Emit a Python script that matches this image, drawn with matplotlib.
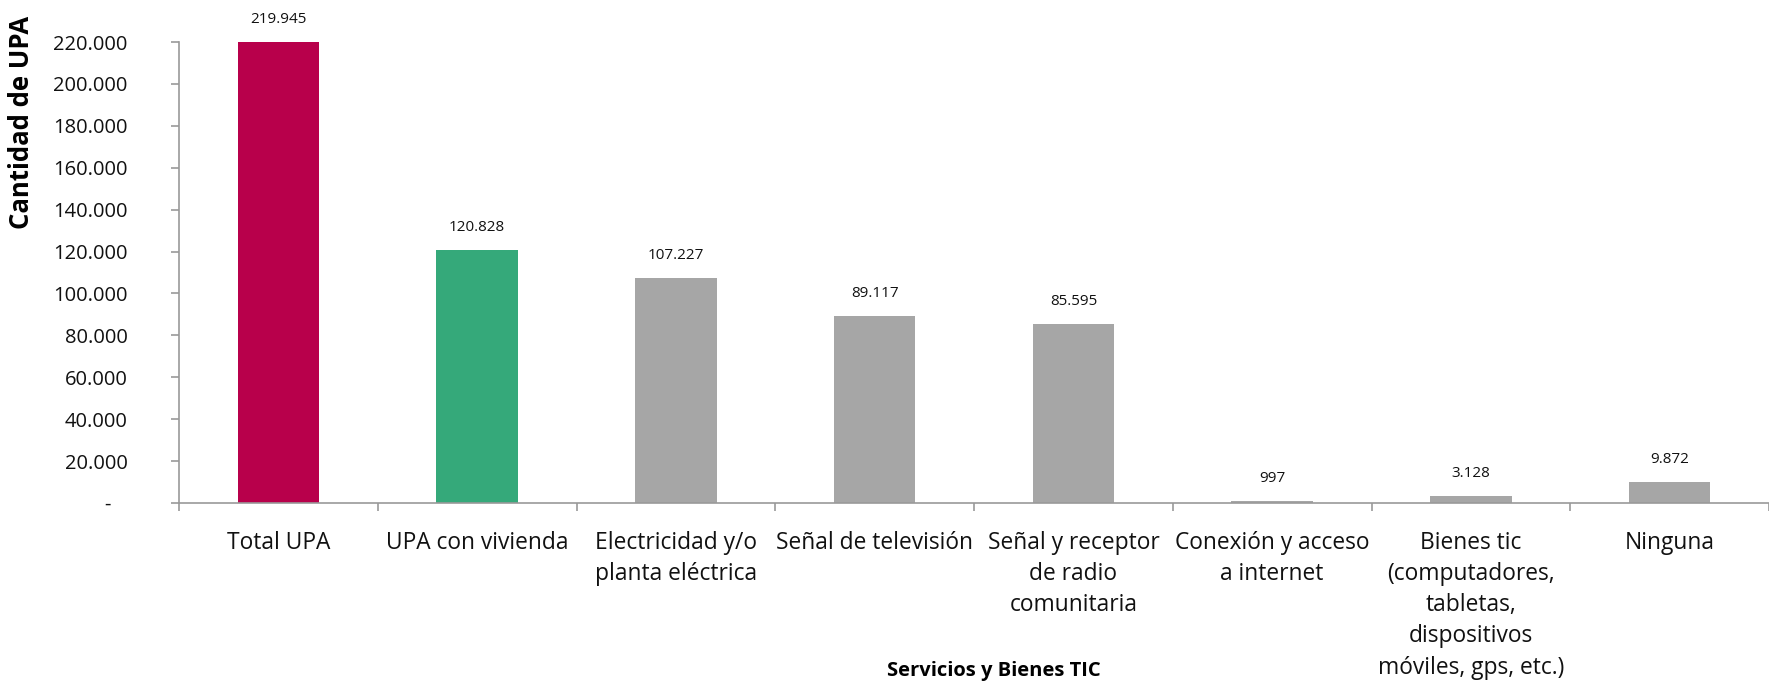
import numpy as np
import matplotlib
matplotlib.use("Agg")
import matplotlib.pyplot as plt
from matplotlib.ticker import FuncFormatter

categories = [
    "Total UPA",
    "UPA con vivienda",
    "Electricidad y/o\nplanta eléctrica",
    "Señal de televisión",
    "Señal y receptor\nde radio\ncomunitaria",
    "Conexión y acceso\na internet",
    "Bienes tic\n(computadores,\ntabletas,\ndispositivos\nmóviles, gps, etc.)",
    "Ninguna",
]
values = [219945, 120828, 107227, 89117, 85595, 997, 3128, 9872]
colors = ["#B8004B", "#35A97A"] + ["#A6A6A6"] * 6
y_ticks = list(range(0, 220001, 20000))

plt.rcParams["font.family"] = ["Open Sans", "DejaVu Sans"]


def miles(v):
    return f"{int(round(v)):,}".replace(",", ".")


fig = plt.figure(figsize=(17.69, 6.84), dpi=100)
ax = fig.add_axes([179 / 1769, 1 - 503 / 684, 1 - 179 / 1769, (503 - 42) / 684])

x = np.arange(len(categories))
bars = ax.bar(x, values, width=0.41, color=colors, zorder=2)

for b, v in zip(bars, values):
    ax.annotate(miles(v), (b.get_x() + b.get_width() / 2, v), xytext=(0, 15),
                textcoords="offset pixels", ha="center", va="bottom", fontsize=11,
                color="#111111")

ax.set_xlim(-0.5, len(categories) - 0.5)
ax.set_ylim(0, 220000)
ax.set_yticks(y_ticks)
ax.yaxis.set_major_formatter(FuncFormatter(lambda v, p: "-   " if v == 0 else miles(v)))
ax.tick_params(axis="y", length=6, width=1.2, color="#999999", pad=31, labelsize=14.5,
               labelcolor="#111111")

ax.set_xticks(np.arange(len(categories) + 1) - 0.5)
ax.set_xticklabels([])
ax.tick_params(axis="x", which="major", length=6, width=1.2, color="#999999")
ax.set_xticks(x, minor=True)
ax.set_xticklabels(categories, minor=True, fontsize=16.4, color="#111111", linespacing=1.4)
ax.tick_params(axis="x", which="minor", length=0, pad=20)

for s in ["top", "right"]:
    ax.spines[s].set_visible(False)
for s in ["left", "bottom"]:
    ax.spines[s].set_color("#999999")
    ax.spines[s].set_linewidth(1.2)

fig.text(22 / 1769, 1 - 122 / 684, "Cantidad de UPA", rotation=90, ha="center", va="center",
         fontsize=18.5, fontweight="bold")
fig.text(994 / 1769, 1 - 671 / 684, "Servicios y Bienes TIC", ha="center", va="center",
         fontsize=14.5, fontweight="bold")

fig.savefig("out.png", dpi=100)
